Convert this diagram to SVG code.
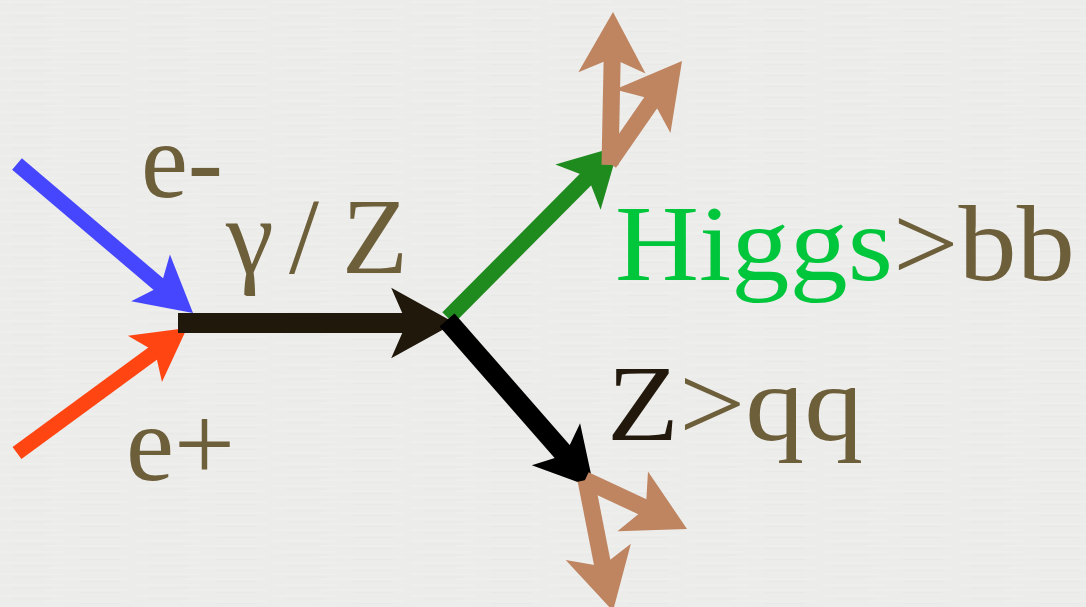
<svg xmlns="http://www.w3.org/2000/svg" width="1086" height="607" viewBox="0 0 1086 607">
  <style>
    .lbl { font-family: "Liberation Serif", "DejaVu Serif", serif; font-size: 108px; fill: #6e5f3b; }
    .shaft { fill: none; stroke-linecap: butt; }
  </style>
  <defs>
    <path id="head" d="M0,0 L-58,-32 L-44,0 L-58,32 Z"/>
    <pattern id="paper" width="137" height="11" patternUnits="userSpaceOnUse">
      <rect width="137" height="11" fill="#ececeb"/>
      <path d="M0,2 H64 M45,7 H130" stroke="#f0f0ef" stroke-width="1.2"/>
      <path d="M12,5 H52 M80,9.5 H120" stroke="#e8e8e7" stroke-width="1"/>
    </pattern>
  </defs>
  <rect width="1086" height="607" fill="url(#paper)"/>

  <g id="connectors">
    <g id="e-minus-arrow">
      <line class="shaft" x1="17" y1="164" x2="170" y2="294" stroke="#4646ff" stroke-width="15"/>
      <use href="#head" fill="#4646ff" transform="translate(193,313) rotate(39.6) scale(0.95)"/>
    </g>
    <g id="e-plus-arrow">
      <line class="shaft" x1="17" y1="453" x2="163" y2="346" stroke="#ff4511" stroke-width="15"/>
      <use href="#head" fill="#ff4511" transform="translate(187,328) rotate(-36.3) scale(0.9)"/>
    </g>
    <g id="gammaZ-arrow">
      <line class="shaft" x1="178" y1="323" x2="425" y2="323" stroke="#20180b" stroke-width="20"/>
      <use href="#head" fill="#20180b" transform="translate(455,323) scale(1.1)"/>
    </g>
    <g id="higgs-arrow">
      <line class="shaft" x1="448" y1="318" x2="598" y2="167" stroke="#1f8a1e" stroke-width="16"/>
      <use href="#head" fill="#1f8a1e" transform="translate(619,146) rotate(-45)"/>
    </g>
    <g id="z-arrow">
      <line class="shaft" x1="447" y1="320" x2="574" y2="465" stroke="#000000" stroke-width="20"/>
      <use href="#head" fill="#000000" transform="translate(594,488) rotate(49)"/>
    </g>
    <g id="b1-arrow">
      <line class="shaft" x1="610" y1="165" x2="612.5" y2="42" stroke="#bf8561" stroke-width="17"/>
      <use href="#head" fill="#bf8561" transform="translate(613,12) rotate(-89) scale(1.05)"/>
    </g>
    <g id="b2-arrow">
      <line class="shaft" x1="609" y1="163" x2="663" y2="85" stroke="#bf8561" stroke-width="17"/>
      <use href="#head" fill="#bf8561" transform="translate(682,61) rotate(-52) scale(1.1)"/>
    </g>
    <g id="q1-arrow">
      <line class="shaft" x1="585" y1="480" x2="660" y2="515" stroke="#bf8561" stroke-width="17"/>
      <use href="#head" fill="#bf8561" transform="translate(687,529) rotate(27) scale(1.05)"/>
    </g>
    <g id="q2-arrow">
      <line class="shaft" x1="586" y1="480" x2="606" y2="582" stroke="#bf8561" stroke-width="17"/>
      <use href="#head" fill="#bf8561" transform="translate(613,611) rotate(76) scale(1.05)"/>
    </g>
  </g>

  <g id="label-e-minus">
    <text class="lbl" x="141" y="197" textLength="82" lengthAdjust="spacingAndGlyphs">e-</text>
  </g>
  <g id="label-e-plus">
    <text class="lbl" x="126" y="480" textLength="109" lengthAdjust="spacingAndGlyphs">e+</text>
  </g>
  <g id="label-gammaZ">
    <text class="lbl" x="226 289 342" y="273">γ/Z</text>
  </g>
  <g id="label-higgs">
    <text class="lbl" x="615" y="280" textLength="460" lengthAdjust="spacingAndGlyphs"><tspan fill="#00c63c">Higgs</tspan>&gt;bb</text>
  </g>
  <g id="label-zqq">
    <text class="lbl" x="607" y="440" textLength="256" lengthAdjust="spacingAndGlyphs"><tspan fill="#22190c">Z</tspan>&gt;qq</text>
  </g>
</svg>
